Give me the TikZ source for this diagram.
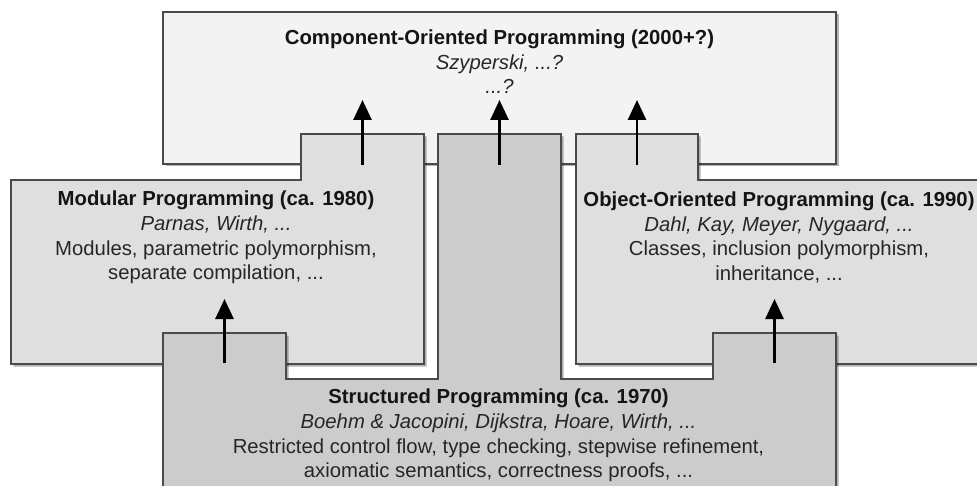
\documentclass[tikz,border=0pt]{standalone}
\usepackage{fontspec}
\setmainfont{Liberation Sans}
\usetikzlibrary{arrows.meta,shadows}
\definecolor{edgegray}{HTML}{4A4A4A}
\definecolor{topfill}{HTML}{F3F3F3}
\definecolor{midfill}{HTML}{DFDFDF}
\definecolor{basefill}{HTML}{CCCCCC}
\definecolor{inkdark}{HTML}{141414}
\definecolor{inksoft}{HTML}{262626}
\begin{document}
\begin{tikzpicture}[x=1pt,y=-1pt,
  panel/.style={draw=edgegray, line width=1.8pt, line join=miter,
    drop shadow={shadow xshift=2.5pt, shadow yshift=-2.5pt, fill=black, opacity=0.3}},
  era/.style={align=center, text=inksoft, font=\fontsize{20.3}{24.6}\selectfont, inner sep=0pt},
  influence/.style={line width=2.7pt, -{Triangle[length=20pt,width=18pt]}}
]
\useasboundingbox (0,0) rectangle (977,486);
\clip (0,0) rectangle (977,486);
\fill[white] (0,0) rectangle (977,486);

% Component-oriented programming (back layer)
\path[panel, fill=topfill] (163,12) rectangle (836,164);

% Modular programming, with its tab reaching up
\path[panel, fill=midfill] (11,180) -- (301,180) -- (301,134) -- (424,134)
  -- (424,364) -- (11,364) -- cycle;

% Object-oriented programming, with its tab reaching up
\path[panel, fill=midfill] (576,134) -- (698,134) -- (698,180) -- (984,180)
  -- (984,364) -- (576,364) -- cycle;

% Structured programming (front layer) with three tabs
\path[panel, fill=basefill] (163,510) -- (163,333) -- (286,333) -- (286,379)
  -- (438,379) -- (438,134) -- (561,134) -- (561,379) -- (713,379)
  -- (713,333) -- (836,333) -- (836,510) -- cycle;

% Texts
\node[era] (cop) at (499.5,62) {\textcolor{inkdark}{\textbf{Component-Oriented Programming (2000+?)}}\\
  \textit{Szyperski, ...?}\\ \textit{...?}};
\node[era] (mp) at (216,237.5) {\textcolor{inkdark}{\textbf{Modular Programming (ca. 1980)}}\\
  \textit{Parnas, Wirth, ...}\\ Modules, parametric polymorphism,\\ separate compilation, ...};
\node[era] (oop) at (779,237.5) {\textcolor{inkdark}{\textbf{Object-Oriented Programming (ca. 1990)}}\\
  \textit{Dahl, Kay, Meyer, Nygaard, ...}\\ Classes, inclusion polymorphism,\\ inheritance, ...};
\node[era] (sp) at (498.5,435.5) {\textcolor{inkdark}{\textbf{Structured Programming (ca. 1970)}}\\
  \textit{Boehm \& Jacopini, Dijkstra, Hoare, Wirth, ...}\\
  Restricted control flow, type checking, stepwise refinement,\\
  axiomatic semantics, correctness proofs, ...};

% Arrow end points
\coordinate (mpTab) at (362.5,165);
\coordinate (mpIn) at (362.5,100);
\coordinate (spTab) at (499.5,165);
\coordinate (spIn) at (499.5,100);
\coordinate (oopTab) at (637,165);
\coordinate (oopIn) at (637,100);
\coordinate (spLeft) at (224.5,363);
\coordinate (mpLow) at (224.5,299);
\coordinate (spRight) at (774.5,363);
\coordinate (oopLow) at (774.5,299);

\draw[influence] (mpTab) -- (mpIn);
\draw[influence] (spTab) -- (spIn);
\draw[influence] (oopTab) -- (oopIn);
\draw[influence] (spLeft) -- (mpLow);
\draw[influence] (spRight) -- (oopLow);
\end{tikzpicture}
\end{document}
